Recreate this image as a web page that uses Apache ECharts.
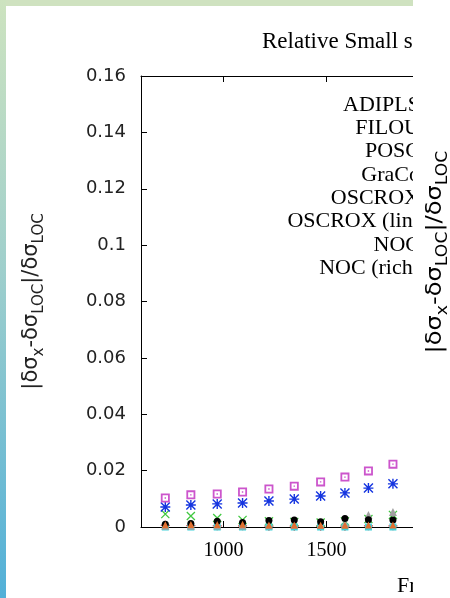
<!DOCTYPE html>
<html>
<head>
<meta charset="utf-8">
<script src="https://cdn.jsdelivr.net/npm/echarts@6/dist/echarts.min.js"></script>
<style>
  html, body { margin: 0; padding: 0; background: #fff; }
  #main { width: 450px; height: 598px; }
</style>
</head>
<body>
<div id="main"></div>
<script>
// frequency of each mode (x)
const freq = [718, 842, 970, 1093, 1221, 1344, 1472, 1590, 1704, 1823];

// relative differences per code
const adipls = [0.0006, 0.0005, 0.0004, 0.0004, 0.0003, 0.0003, 0.0003, 0.0003, 0.0004, 0.0004];
const filou = [0.0046, 0.0039, 0.0032, 0.0025, 0.0020, 0.0018, 0.0016, 0.0020, 0.0028, 0.0043];
const posc = [0.0071, 0.0078, 0.0082, 0.0085, 0.0092, 0.0099, 0.0110, 0.0121, 0.0138, 0.0153];
const graco = [0.0103, 0.0114, 0.0117, 0.0124, 0.0135, 0.0145, 0.0160, 0.0177, 0.0199, 0.0223];
const oscrox = [0, 0, 0, 0, 0, 0, 0, 0, 0, 0];
const oscroxLin = [0.0004, 0.0004, 0.0005, 0.0005, 0.0006, 0.0007, 0.0008, 0.0012, 0.0043, 0.0053];
const noc = [0.0010, 0.0012, 0.0020, 0.0016, 0.0023, 0.0025, 0.0019, 0.0030, 0.0026, 0.0025];
const nocRich = [0.0008, 0.0009, 0.0009, 0.0010, 0.0007, 0.0007, 0.0006, 0.0006, 0.0007, 0.0007];

const names = ["ADIPLS", "FILOU", "POSC", "GraCo", "OSCROX", "OSCROX (lin)", "NOC", "NOC (rich)"];
const xTicks = [1000, 1500, 2000];
const xLabels = [1000, 1500];

// gnuplot-like point shapes
const plusPath = "path://M4.3,0H5.7V10H4.3Z M0,4.3H10V5.7H0Z";
const crossPath = "path://M0,1L1,0L10,9L9,10Z M9,0L10,1L1,10L0,9Z";
const starPath = "path://M4.3,0H5.7V10H4.3Z M0,4.3H10V5.7H0Z M0,1L1,0L10,9L9,10Z M9,0L10,1L1,10L0,9Z";
const boxPath = "path://M0,0H10V10H0Z M2,8H8V2H2Z M4.2,4.2H5.8V5.8H4.2Z";

const styles = [
  { data: adipls, color: "#e03030", symbol: plusPath, size: 9 },
  { data: filou, color: "#40c840", symbol: crossPath, size: 9 },
  { data: posc, color: "#1535e0", symbol: starPath, size: 10 },
  { data: graco, color: "#cc55cc", symbol: boxPath, size: 9 },
  { data: oscrox, color: "#40d0d8", symbol: "rect", size: 7 },
  { data: oscroxLin, color: "#a0a0a0", symbol: "triangle", size: 8 },
  { data: noc, color: "#000000", symbol: "circle", size: 7 },
  { data: nocRich, color: "#e07030", symbol: "triangle", size: 7 },
];

const series = styles.map((s, k) => ({
  name: names[k],
  type: "scatter",
  symbol: s.symbol,
  symbolSize: s.size,
  itemStyle: { color: s.color, opacity: 1 },
  data: freq.map((f, i) => [f, s.data[i]]),
}));

const yName = "{m||δσ}{s|x}{m|-δσ}{s|LOC}{m||/δσ}{s|LOC}";
const richName = (m, s) => ({
  m: { fontSize: m, lineHeight: m + 2, verticalAlign: "top", fontFamily: "DejaVu Sans", color: "#222" },
  s: { fontSize: s, lineHeight: s, padding: [m / 2, 0, 0, 0], verticalAlign: "top", fontFamily: "DejaVu Sans", color: "#222" },
});

const option = {
  animation: false,
  backgroundColor: "#fff",
  title: {
    text: "Relative Small separations",
    left: 262,
    top: 30,
    padding: 0,
    textStyle: { fontFamily: "Liberation Serif", fontSize: 23, fontWeight: "normal", color: "#000" },
  },
  legend: {
    orient: "vertical",
    align: "right",
    right: 0,
    top: 94,
    padding: 0,
    itemWidth: 25,
    itemHeight: 14,
    itemGap: 1.3,
    data: names,
    textStyle: { fontFamily: "Liberation Serif", fontSize: 22, lineHeight: 22, color: "#000" },
  },
  grid: { left: 141, top: 76, width: 316, height: 451 },
  xAxis: [
    {
      type: "value",
      min: 600,
      max: 2100,
      axisLine: { lineStyle: { color: "#000", width: 1 } },
      axisTick: { inside: true, length: 6, customValues: xTicks, lineStyle: { color: "#000" } },
      axisLabel: {
        customValues: xLabels, margin: 14, formatter: (v) => String(v),
        fontFamily: "Liberation Serif", fontSize: 20, color: "#000",
      },
      splitLine: { show: false },
    },
    {
      type: "value",
      position: "top",
      min: 600,
      max: 2100,
      axisLine: { lineStyle: { color: "#000", width: 1 } },
      axisTick: { inside: true, length: 6, customValues: xTicks, lineStyle: { color: "#000" } },
      axisLabel: { show: false },
      splitLine: { show: false },
    },
  ],
  yAxis: {
    type: "value",
    min: 0,
    max: 0.16,
    interval: 0.02,
    name: yName,
    nameLocation: "middle",
    nameGap: 97,
    nameTextStyle: { rich: richName(21, 15) },
    axisLine: { show: true, lineStyle: { color: "#000", width: 1 } },
    axisTick: { inside: true, length: 6, lineStyle: { color: "#000" } },
    axisLabel: { margin: 15, fontFamily: "DejaVu Sans", fontSize: 18, color: "#222" },
    splitLine: { show: false },
  },
  graphic: [
    { type: "rect", z: 0, shape: { x: 0, y: 0, width: 413, height: 6 }, style: { fill: "#cfe2c0" } },
    {
      type: "rect", z: 0, shape: { x: 0, y: 0, width: 6, height: 598 },
      style: {
        fill: new echarts.graphic.LinearGradient(0, 0, 0, 1, [
          { offset: 0, color: "#cde3bf" },
          { offset: 0.45, color: "#9fcfcc" },
          { offset: 1, color: "#52b0d8" },
        ]),
      },
    },
    {
      type: "text", z: 50, x: 397, y: 575,
      style: { text: "Frequency (μHz)", fontFamily: "Liberation Serif", fontSize: 22, fill: "#000", textVerticalAlign: "top" },
    },
    { type: "rect", z: 100, shape: { x: 413, y: 0, width: 37, height: 598 }, style: { fill: "#fff" } },
    {
      type: "text", z: 110, x: 437, y: 252, rotation: Math.PI / 2, scaleX: 1.15,
      style: { text: yName, rich: richName(21, 15), textAlign: "center", textVerticalAlign: "middle" },
    },
  ],
  series: series,
};

const chart = echarts.init(document.getElementById("main"));
chart.setOption(option);
</script>
</body>
</html>
